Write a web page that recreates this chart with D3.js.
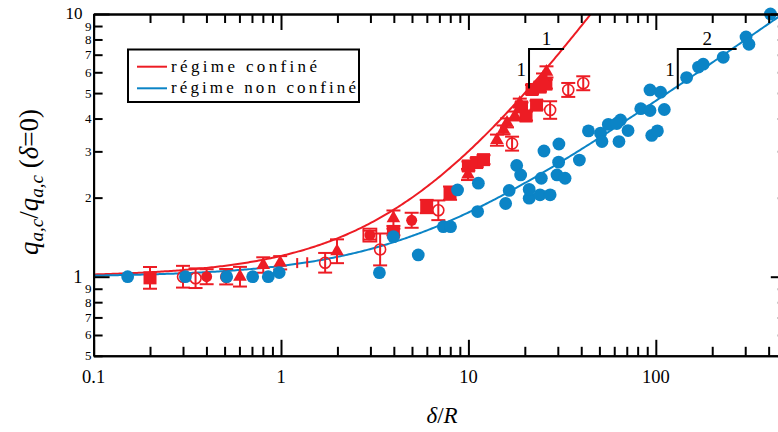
<!DOCTYPE html>
<html><head><meta charset="utf-8">
<script src="https://cdn.jsdelivr.net/npm/d3@7"></script>
<style>html,body{margin:0;padding:0;background:#fff;} svg{display:block;}</style>
</head><body>
<svg id="chart" width="778" height="432"></svg>
<script>
// ---------- data ----------
const xMajorTicks = [0.1, 1, 10, 100];
const xTickLabels = ["0.1", "1", "10", "100"];
const xMinorTicks = [0.2,0.3,0.4,0.5,0.6,0.7,0.8,0.9,2,3,4,5,6,7,8,9,20,30,40,50,60,70,80,90,200,300,400];
const yMajorTicks = [1, 10];
const yMajorLabels = ["1", "10"];
const yMinorTicks = [0.5,0.6,0.7,0.8,0.9,2,3,4,5,6,7,8,9];
const yMinorLabels = ["5","6","7","8","9","2","3","4","5","6","7","8","9"];
const legendLabels = ["régime confiné", "régime non confiné"];

// unconfined regime (blue filled circles): [delta/R, q/q0]
const bluePoints = [[0.152,1.00],[0.309,1.00],[0.513,1.00],[0.706,1.00],[0.855,1.00],[0.978,1.037],
 [3.35,1.036],[3.98,1.42],[5.40,1.21],[7.35,1.55],[8.03,1.55],[8.75,2.14],[11.3,2.27],[11.2,1.77],
 [15.8,1.90],[16.5,2.13],[18.1,2.65],[19.0,2.44],[21.1,1.99],[21.1,2.15],[24.1,2.05],[24.5,2.37],
 [27.3,2.05],[25.3,3.01],[30.4,3.20],[30.3,2.73],[29.7,2.44],[32.8,2.37],[39.1,2.78],[43.7,3.59],
 [50.7,3.52],[51.6,3.27],[55.8,3.80],[64.8,3.95],[61.9,3.83],[63.6,3.27],[71.1,3.60],[83.1,4.36],
 [93.1,5.14],[106,5.04],[93.1,4.29],[111,4.33],[95.1,3.45],[102,3.59],[146,5.73],[169,6.28],
 [179,6.44],[229,6.84],[303,8.18],[314,7.67],[409,10.0]];

// confined regime (red): [delta/R, q/q0, error factor]
const redSquares = [[0.2,0.99,1.10],[3.98,1.48,1.03],[5.99,1.85,1.06],[7.98,2.08,1.06],[10.0,2.64,1.04],
 [11.07,2.72,1.04],[12.04,2.79,1.04],[19.2,4.43,1.04],[20.3,4.09,1.04],[23.1,4.50,1.04],
 [21.85,5.16,1.04],[24.1,5.27,1.04],[25.9,5.41,1.04]];
const redTriangles = [[0.604,1.0,1.09],[0.804,1.108,1.07],[0.99,1.13,1.06],[1.99,1.25,1.11],[3.98,1.67,1.07],
 [9.95,2.45,1.05],[14.2,3.31,1.05],[15.4,3.62,1.04],[16.07,3.85,1.04],[17.7,4.09,1.04],[18.8,4.58,1.04],
 [25.0,5.71,1.04],[26.1,6.02,1.05]];
const redCircles = [[0.401,1.0,1.068],[2.98,1.44,1.04],[4.98,1.64,1.068]];
const redOpenCircles = [[0.30,1.0,1.10],[0.35,0.987,1.09],[0.51,1.0,1.07],[1.72,1.13,1.09],[3.38,1.27,1.15],
 [6.91,1.79,1.09],[17.1,3.21,1.063],[27.3,4.31,1.08],[34.1,5.14,1.063],[41.0,5.45,1.063]];
const redOpenSquares = [[2.98,1.44,1.0]];
const redBarsOnly = [[1.22,1.127,1.045],[1.38,1.135,1.045]];

// model curves parameters
const confinedScale = 5.0;    // q = 1 + x/c
const unconfinedScale = 4.8;  // q = sqrt(1 + x/c)

// slope annotations: [x0, x1, yTop, yBottom, topLabel, sideLabel]
const slopeMarks = [[21.06, 32.4, 7.36, 5.21, "1", "1"], [131, 270, 7.36, 5.17, "2", "1"]];

// ---------- drawing ----------
const RED = "#ed1c24", BLUE = "#0b84c6";
const FF = "Liberation Serif, DejaVu Serif, serif";
const svg = d3.select("#chart");
const x = d3.scaleLog().domain([0.1, 500]).range([93.6, 786.8]);
const y = d3.scaleLog().domain([0.5, 10]).range([355.8, 14]);
const [X0, X1] = x.range(), [Y0, Y1] = y.range();

svg.append("defs").append("clipPath").attr("id","clip")
  .append("rect").attr("x", X0).attr("y", Y1).attr("width", X1 - X0).attr("height", Y0 - Y1);

// curves
const xs = d3.range(0, 400).map(i => Math.pow(10, -1 + i * Math.log10(5000) / 399));
const line = d3.line().x(d => x(d[0])).y(d => y(d[1]));
const gc = svg.append("g").attr("clip-path","url(#clip)");
gc.append("path").attr("d", line(xs.map(v => [v, 1 + v / confinedScale])))
  .attr("fill","none").attr("stroke", RED).attr("stroke-width", 2);
gc.append("path").attr("d", line(xs.map(v => [v, Math.sqrt(1 + v / unconfinedScale)])))
  .attr("fill","none").attr("stroke", BLUE).attr("stroke-width", 2);

// red error bars
const gr = svg.append("g");
function errBars(data) {
  data.forEach(d => {
    const cx = x(d[0]), lo = y(d[1] / d[2]), hi = y(d[1] * d[2]);
    gr.append("line").attr("x1", cx).attr("x2", cx).attr("y1", lo).attr("y2", hi)
      .attr("stroke", RED).attr("stroke-width", 2);
    [lo, hi].forEach(v => gr.append("line").attr("x1", cx - 7).attr("x2", cx + 7).attr("y1", v).attr("y2", v)
      .attr("stroke", RED).attr("stroke-width", 2));
  });
}
[redSquares, redTriangles, redCircles, redOpenCircles].forEach(errBars);
redBarsOnly.forEach(d => {
  const cx = x(d[0]);
  gr.append("line").attr("x1", cx).attr("x2", cx).attr("y1", y(d[1] / d[2])).attr("y2", y(d[1] * d[2]))
    .attr("stroke", RED).attr("stroke-width", 2);
});
redSquares.forEach(d => gr.append("rect").attr("x", x(d[0]) - 6.5).attr("y", y(d[1]) - 6.5)
  .attr("width", 13).attr("height", 13).attr("fill", RED));
redOpenSquares.forEach(d => gr.append("rect").attr("x", x(d[0]) - 6.5).attr("y", y(d[1]) - 6.5)
  .attr("width", 13).attr("height", 13).attr("fill", "none").attr("stroke", RED).attr("stroke-width", 1.8));
const tri = d3.symbol().type(d3.symbolTriangle).size(80);
redTriangles.forEach(d => gr.append("path").attr("d", tri())
  .attr("transform", `translate(${x(d[0])},${y(d[1])})`).attr("fill", RED));
redCircles.forEach(d => gr.append("circle").attr("cx", x(d[0])).attr("cy", y(d[1])).attr("r", 5.5).attr("fill", RED));
redOpenCircles.forEach(d => gr.append("circle").attr("cx", x(d[0])).attr("cy", y(d[1])).attr("r", 5.5)
  .attr("fill", "none").attr("stroke", RED).attr("stroke-width", 1.6));

// blue points
svg.append("g").selectAll("circle").data(bluePoints).join("circle")
  .attr("cx", d => x(d[0])).attr("cy", d => y(d[1])).attr("r", 6.4).attr("fill", BLUE);

// axes frame & ticks
function axisGroup(axis, tr) {
  const g = svg.append("g").attr("transform", tr).call(axis);
  g.selectAll("text").remove();
  g.selectAll("path").attr("stroke", "#000").attr("stroke-width", 2);
  g.selectAll("line").attr("stroke", "#000").attr("stroke-width", 2);
  return g;
}
const fmt = () => "";
axisGroup(d3.axisBottom(x).tickValues(xMinorTicks).tickSizeInner(-9).tickSizeOuter(0).tickFormat(fmt), `translate(0,${Y0})`);
axisGroup(d3.axisBottom(x).tickValues(xMajorTicks).tickSizeInner(-16).tickSizeOuter(0).tickFormat(fmt), `translate(0,${Y0})`);
axisGroup(d3.axisTop(x).tickValues(xMinorTicks).tickSizeInner(-9).tickSizeOuter(0).tickFormat(fmt), `translate(0,${Y1})`);
axisGroup(d3.axisTop(x).tickValues(xMajorTicks).tickSizeInner(-16).tickSizeOuter(0).tickFormat(fmt), `translate(0,${Y1})`);
axisGroup(d3.axisLeft(y).tickValues(yMinorTicks).tickSizeInner(-9).tickSizeOuter(0).tickFormat(fmt), `translate(${X0},0)`);
axisGroup(d3.axisLeft(y).tickValues(yMajorTicks).tickSizeInner(-16).tickSizeOuter(0).tickFormat(fmt), `translate(${X0},0)`);
axisGroup(d3.axisRight(y).tickValues(yMinorTicks).tickSizeInner(-9).tickSizeOuter(0).tickFormat(fmt), `translate(${X1},0)`);
axisGroup(d3.axisRight(y).tickValues(yMajorTicks).tickSizeInner(-16).tickSizeOuter(0).tickFormat(fmt), `translate(${X1},0)`);

function txt(parent) { return parent.append("text").attr("font-family", FF).attr("fill", "#000"); }

// tick labels
const gl = svg.append("g");
xMajorTicks.forEach((v, i) => txt(gl).attr("x", x(v)).attr("y", 383)
  .attr("text-anchor", "middle").attr("font-size", 18.5).text(xTickLabels[i]));
yMajorTicks.forEach((v, i) => txt(gl).attr("x", 82.5).attr("y", y(v) + (i === 1 ? 5 : 6.5))
  .attr("text-anchor", "end").attr("font-size", i === 1 ? 17 : 18.5).text(yMajorLabels[i]));
yMinorTicks.forEach((v, i) => txt(gl).attr("x", 91.5).attr("y", y(v) + 4.5)
  .attr("text-anchor", "end").attr("font-size", 13).text(yMinorLabels[i]));

// axis titles
const xt = txt(gl).attr("x", 442).attr("y", 423).attr("text-anchor", "middle").attr("font-size", 23);
xt.append("tspan").attr("font-style", "italic").text("δ");
xt.append("tspan").text("/");
xt.append("tspan").attr("font-style", "italic").text("R");

const yt = txt(gl).attr("transform", "translate(38,182) rotate(-90)").attr("text-anchor", "middle").attr("font-size", 27);
yt.append("tspan").attr("font-style", "italic").text("q");
yt.append("tspan").attr("font-style", "italic").attr("font-size", 19).attr("dy", 5).text("a,c");
yt.append("tspan").attr("dy", -5).text("/");
yt.append("tspan").attr("font-style", "italic").text("q");
yt.append("tspan").attr("font-style", "italic").attr("font-size", 19).attr("dy", 5).text("a,c");
yt.append("tspan").attr("dy", -5).text(" (");
yt.append("tspan").attr("font-style", "italic").text("δ");
yt.append("tspan").text("=0)");

// slope triangles
slopeMarks.forEach(s => {
  const xa = x(s[0]), xb = x(s[1]), ya = y(s[2]), yb = y(s[3]);
  svg.append("path").attr("d", `M${xb},${ya}H${xa}V${yb}`).attr("fill", "none")
    .attr("stroke", "#000").attr("stroke-width", 2);
  txt(gl).attr("x", (xa + xb) / 2).attr("y", ya - 4).attr("text-anchor", "middle").attr("font-size", 19).text(s[4]);
  txt(gl).attr("x", xa - 3).attr("y", (ya + yb) / 2 + 7).attr("text-anchor", "end").attr("font-size", 19).text(s[5]);
});

// legend
const lg = svg.append("g");
lg.append("rect").attr("x", 128).attr("y", 49.5).attr("width", 231).attr("height", 52.5)
  .attr("fill", "#fff").attr("stroke", "#000").attr("stroke-width", 2);
[RED, BLUE].forEach((c, i) => {
  const yy = 66.7 + i * 21.6;
  lg.append("line").attr("x1", 137).attr("x2", 167).attr("y1", yy).attr("y2", yy).attr("stroke", c).attr("stroke-width", 2);
  txt(lg).attr("x", 171).attr("y", yy + 5).attr("font-size", 17)
    .attr("textLength", i === 0 ? 146 : 185).attr("lengthAdjust", "spacing").text(legendLabels[i]);
});
</script>
</body></html>
